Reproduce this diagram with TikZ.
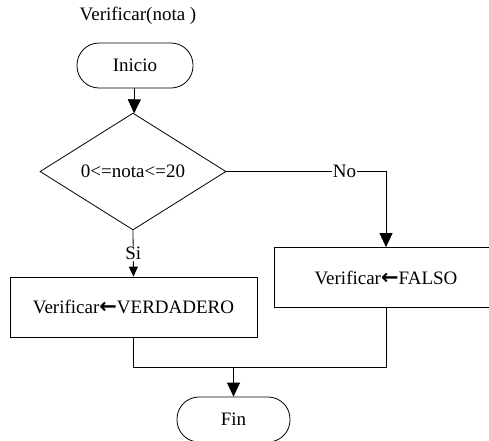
\documentclass[tikz,border=0pt]{standalone}
\usepackage{fontspec}
\setmainfont{Liberation Serif}
\newfontfamily\flecha{DejaVu Sans}
\newcommand{\asigna}{{\flecha\bfseries\fontsize{21}{22}\selectfont ←}}
\usetikzlibrary{shapes.geometric,arrows.meta}

\begin{document}
\begin{tikzpicture}[x=1pt, y=-1pt, line width=0.8pt,
                    every node/.style={font=\fontsize{19}{22}\selectfont},
                    term node/.style={draw,rectangle,rounded corners=22pt,minimum width=116pt,minimum height=45pt},
                    proc node/.style={draw,rectangle,minimum height=60pt},
                    dec node/.style={draw,diamond,minimum width=186pt,minimum height=113pt,inner sep=0pt},
                    flow/.style={-{Triangle[length=14pt,width=13pt]}},
                    short flow/.style={-{Triangle[length=10pt,width=9pt]}},
                    tag/.style={fill=white,inner sep=1pt}]

  \useasboundingbox (0,0) rectangle (489,440);

  \node (titulo) at (138,16) {Verificar(nota )};
  \node[term node] (ini) at (135,65.5) {Inicio};
  \node[dec node] (cond) at (133,171.5) {0<=nota<=20};
  \node[proc node,minimum width=247pt] (verd) at (133.5,307) {Verificar\asigna VERDADERO};
  \node[proc node,minimum width=224pt] (falso) at (386,277.5) {Verificar\asigna FALSO};
  \node[term node,minimum width=113pt] (fin) at (233.5,419.5) {Fin};
  \coordinate (union) at (233.5,367);

  \draw[flow] (ini) -- (cond);
  \draw[flow] (cond.east) -| node[tag,pos=0.37] {No} (falso.north);
  \draw[short flow] (cond.south) -- node[tag] {Si} (verd.north);
  \draw (verd.south) |- (union);
  \draw (falso.south) |- (union);
  \draw[flow] (union) -- (fin);

\end{tikzpicture}
\end{document}
